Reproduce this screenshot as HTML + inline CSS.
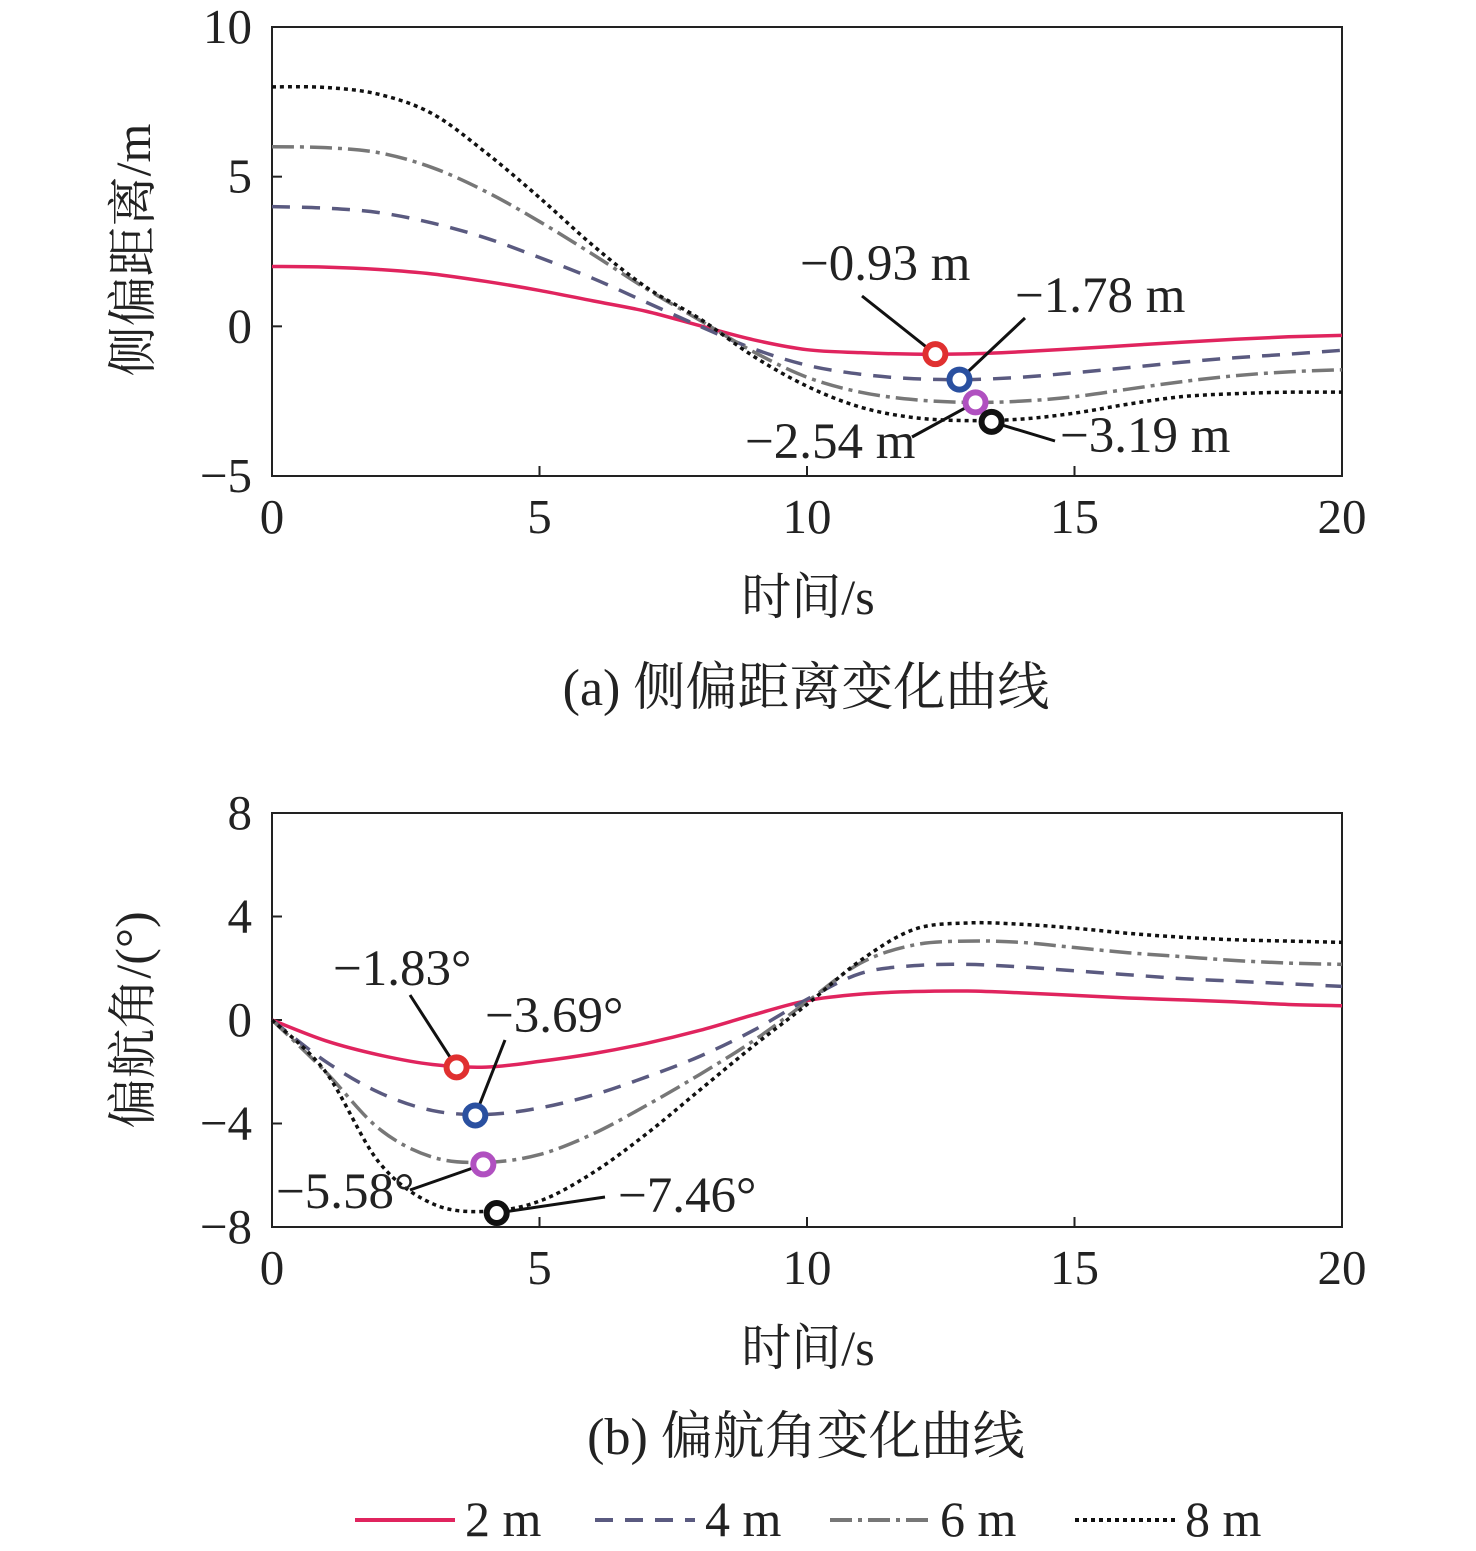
<!DOCTYPE html>
<html><head><meta charset="utf-8"><style>
html,body{margin:0;padding:0;background:#fff;}
svg{display:block;font-family:"Liberation Serif","Noto Serif CJK SC",serif;}
</style></head><body>
<svg id="chart" width="1476" height="1551" viewBox="0 0 1476 1551" xmlns="http://www.w3.org/2000/svg">
<g id="ga"></g>
<g id="gb"></g>
<g id="leg"></g>
</svg>
<script>
const times=[0,1,2,3,4,5,6,7,8,9,10,11,12,13,14,15,16,17,18,19,20];
const seriesNames=['2 m','4 m','6 m','8 m'];
const latA2=[2,1.98,1.9,1.75,1.5,1.2,0.85,0.5,0.02,-0.45,-0.78,-0.88,-0.93,-0.92,-0.85,-0.75,-0.64,-0.53,-0.43,-0.35,-0.3];
const latA4=[4,3.95,3.8,3.45,2.95,2.3,1.6,0.8,0.0,-0.75,-1.3,-1.6,-1.75,-1.78,-1.7,-1.55,-1.38,-1.2,-1.05,-0.93,-0.8];
const latA6=[6,5.97,5.8,5.3,4.5,3.5,2.4,1.25,0.2,-0.85,-1.7,-2.2,-2.45,-2.54,-2.5,-2.35,-2.1,-1.85,-1.65,-1.52,-1.45];
const latA8=[8,7.98,7.75,7.1,5.8,4.3,2.7,1.3,0.25,-1.0,-2.0,-2.7,-3.05,-3.15,-3.1,-2.9,-2.6,-2.35,-2.25,-2.2,-2.2];
const yaw2=[0,-0.8,-1.35,-1.72,-1.82,-1.6,-1.3,-0.9,-0.4,0.2,0.75,1.0,1.1,1.12,1.05,0.95,0.85,0.78,0.7,0.6,0.55];
const yaw4=[0,-1.6,-2.8,-3.5,-3.65,-3.4,-2.9,-2.2,-1.4,-0.4,0.8,1.8,2.1,2.15,2.05,1.9,1.75,1.6,1.5,1.4,1.3];
const yaw6=[0,-2.0,-4.2,-5.3,-5.5,-5.2,-4.4,-3.3,-2.1,-0.8,0.7,2.2,2.9,3.05,3.0,2.8,2.6,2.45,2.3,2.2,2.15];
const yaw8=[0,-2.0,-5.5,-7.1,-7.4,-7.0,-5.9,-4.4,-2.7,-1.0,0.6,2.3,3.5,3.75,3.7,3.55,3.35,3.2,3.1,3.05,3.0];
const xTicks=[0,5,10,15,20];
const yTicksA=[-5,0,5,10];
const yTicksB=[-8,-4,0,4,8];
const minA=[[12.4,-0.93],[12.85,-1.78],[13.15,-2.54],[13.45,-3.19]];
const minB=[[3.45,-1.83],[3.8,-3.69],[3.95,-5.58],[4.2,-7.46]];
const labelsA=['−0.93 m','−1.78 m','−2.54 m','−3.19 m'];
const labelsB=['−1.83°','−3.69°','−5.58°','−7.46°'];

const NS='http://www.w3.org/2000/svg';
function mk(p,tag,at){const e=document.createElementNS(NS,tag);for(const k in at)e.setAttribute(k,at[k]);p.appendChild(e);return e;}
const styles=[{stroke:'#e0245e',dash:''},{stroke:'#5a5a80',dash:'18 12'},{stroke:'#777',dash:'22 6 4 6'},{stroke:'#111',dash:'4 4'}];
const mcol=['#e03030','#2a50a0','#b050c0','#111'];
function path(xs,ys,X,Y){const p=xs.map((x,i)=>[X(x),Y(ys[i])]);let d='M'+p[0][0]+','+p[0][1];
 for(let i=0;i<p.length-1;i++){const p0=p[i-1]||p[i],p1=p[i],p2=p[i+1],p3=p[i+2]||p2;
 d+=' C'+(p1[0]+(p2[0]-p0[0])/6)+','+(p1[1]+(p2[1]-p0[1])/6)+' '+(p2[0]-(p3[0]-p1[0])/6)+','+(p2[1]-(p3[1]-p1[1])/6)+' '+p2[0]+','+p2[1];}return d;}
function chart(g,top,bot,y0,y1,yt,data,mins,labs,lpos,title,cap,capY,yTitleY){
 const L=272,R=1342;const X=t=>L+(t-0)/20*(R-L);const Y=v=>bot-(v-y0)/(y1-y0)*(bot-top);
 let r=mk(g,'rect',{x:L,y:top,width:R-L,height:bot-top,fill:'none',stroke:'#222','stroke-width':2});
 
 xTicks.forEach(t=>{mk(g,'line',{x1:X(t),x2:X(t),y1:bot,y2:bot-10,stroke:'#222','stroke-width':2});
  const tx=mk(g,'text',{x:X(t),y:bot+57,'font-size':49,'text-anchor':'middle',fill:'#222'});tx.textContent=t;
  });
 yt.forEach(v=>{mk(g,'line',{x1:L,x2:L+10,y1:Y(v),y2:Y(v),stroke:'#222','stroke-width':2});
  const tx=mk(g,'text',{x:L-20,y:Y(v)+16,'font-size':49,'text-anchor':'end',fill:'#222'});tx.textContent=v<0?'−'+(-v):v;
  });
 data.forEach((s,i)=>{const p=mk(g,'path',{d:path(times,s,X,Y),fill:'none',stroke:styles[i].stroke,'stroke-width':3.5,'stroke-dasharray':styles[i].dash});
  });
 mins.forEach((m,i)=>{const cx=X(m[0]),cy=Y(m[1]);const lp=lpos[i];
  mk(g,'line',{x1:cx,y1:cy,x2:lp[2],y2:lp[3],stroke:'#111','stroke-width':3});
  const c=mk(g,'circle',{cx:cx,cy:cy,r:10,fill:'#fff',stroke:mcol[i],'stroke-width':6});
  
  const tx=mk(g,'text',{x:lp[0],y:lp[1],'font-size':51,fill:'#222'});tx.textContent=labs[i];
  });
 let t=mk(g,'text',{x:808,y:bot+138,'font-size':50,'text-anchor':'middle',fill:'#222'});t.textContent='时间/s';
 
 t=mk(g,'text',{x:0,y:0,'font-size':50,'text-anchor':'middle',fill:'#222',transform:'translate(150,'+yTitleY+') rotate(-90)'});t.textContent=title;
 
 t=mk(g,'text',{x:806,y:capY,'font-size':52,'text-anchor':'middle',fill:'#222'});t.textContent=cap;
 
}
chart(document.getElementById('ga'),27,476,-5,10,yTicksA,[latA2,latA4,latA6,latA8],minA,labelsA,
 [[800,280,862,296],[1015,312,1025,318],[745,458,912,437],[1060,452,1055,441]],'侧偏距离/m','(a) 侧偏距离变化曲线',705,250);
chart(document.getElementById('gb'),813,1227,-8,8,yTicksB,[yaw2,yaw4,yaw6,yaw8],minB,labelsB,
 [[333,985,410,995],[485,1032,505,1040],[276,1208,410,1190],[618,1212,605,1197]],'偏航角/(°)','(b) 偏航角变化曲线',1454,1020);
const leg=document.getElementById('leg');
const lx=[355,595,830,1075];
seriesNames.forEach((n,i)=>{mk(leg,'line',{x1:lx[i],x2:lx[i]+100,y1:1520,y2:1520,stroke:styles[i].stroke,'stroke-width':4,'stroke-dasharray':styles[i].dash});
 const t=mk(leg,'text',{x:lx[i]+110,y:1536,'font-size':50,fill:'#222'});t.textContent=n;
 });
</script>
</body></html>
